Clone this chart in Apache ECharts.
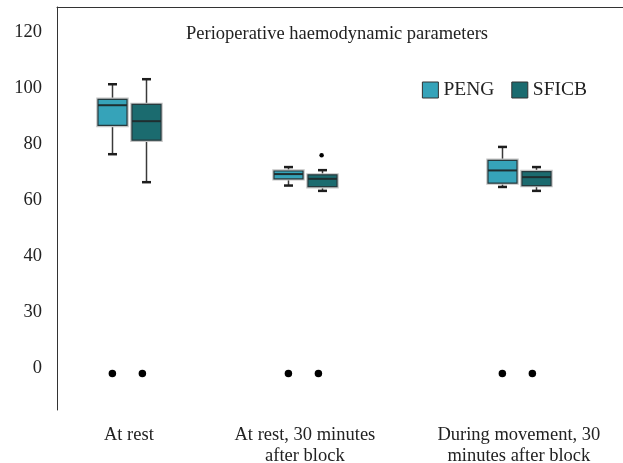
<!DOCTYPE html>
<html>
<head>
<meta charset="utf-8">
<script src="https://cdn.jsdelivr.net/npm/echarts@6/dist/echarts.min.js"></script>
<style>html,body{margin:0;padding:0;background:#fff}#c{width:623px;height:463px}</style>
</head>
<body>
<div id="c"></div>
<script>
// ---- data ----
const categories = ['At rest', 'At rest, 30 minutes\nafter block', 'During movement, 30\nminutes after block'];
const seriesNames = ['PENG', 'SFICB'];
// [min, Q1, median, Q3, max]
const pengBoxes = [
  [76.4, 86.7, 93.9, 96.0, 101.4],
  [65.2, 67.6, 69.3, 70.4, 71.8],
  [64.7, 66.1, 70.6, 74.2, 79.0]
];
const sficbBoxes = [
  [66.4, 81.4, 88.2, 94.2, 103.2],
  [63.3, 64.8, 67.6, 69.0, 70.7],
  [63.3, 65.2, 68.2, 70.2, 71.8]
];
const sficbOutliers = [[1, 76.0]];      // [category index, value]
const pengMarkers = [-2.0, -2.0, -2.0];  // dots near the bottom
const sficbMarkers = [-2.0, -2.0, -2.0];
const yTickValues = [0, 20, 40, 60, 80, 100, 120];
const yTickLabels = ['0', '30', '40', '60', '80', '100', '120'];
const categoryPos = [12.7, 43.8, 81.6]; // along x axis (0-100 scale)

// ---- chart ----
const chart = echarts.init(document.getElementById('c'));
const FONT = '"Liberation Serif", "Times New Roman", serif';
const colors = ['#36a3b9', '#1b6b6f'];
const boxOffsets = [-16.7, 16.7];

function boxRender(offset, color) {
  return function (params, api) {
    const x = api.value(0);
    const pMin = api.coord([x, api.value(1)]);
    const pQ1 = api.coord([x, api.value(2)]);
    const pMed = api.coord([x, api.value(3)]);
    const pQ3 = api.coord([x, api.value(4)]);
    const pMax = api.coord([x, api.value(5)]);
    const cx = Math.round(pMin[0] + offset) + 0.5;
    const hw = 14.5, cap = 4.5;
    const lineStyle = { stroke: '#3a3a3a', lineWidth: 1.5 };
    const capStyle = { stroke: '#1e1e1e', lineWidth: 2.5 };
    return {
      type: 'group',
      children: [
        { type: 'line', shape: { x1: cx, y1: pMax[1], x2: cx, y2: pQ3[1] }, style: lineStyle },
        { type: 'line', shape: { x1: cx, y1: pQ1[1], x2: cx, y2: pMin[1] }, style: lineStyle },
        { type: 'line', shape: { x1: cx - cap, y1: pMax[1], x2: cx + cap, y2: pMax[1] }, style: capStyle },
        { type: 'line', shape: { x1: cx - cap, y1: pMin[1], x2: cx + cap, y2: pMin[1] }, style: capStyle },
        { type: 'rect', shape: { x: cx - hw, y: pQ3[1], width: hw * 2, height: pQ1[1] - pQ3[1] },
          style: { fill: 'none', stroke: '#c4c4c4', lineWidth: 3.5 } },
        { type: 'rect', shape: { x: cx - hw, y: pQ3[1], width: hw * 2, height: pQ1[1] - pQ3[1] },
          style: { fill: color, stroke: '#263a3e', lineWidth: 1.2 } },
        { type: 'line', shape: { x1: cx - hw, y1: pMed[1], x2: cx + hw, y2: pMed[1] },
          style: { stroke: '#1f2e30', lineWidth: 2 } }
      ]
    };
  };
}

function toBoxData(boxes) {
  return boxes.map((b, i) => [categoryPos[i]].concat(b));
}

const option = {
  animation: false,
  backgroundColor: '#fff',
  title: {
    text: 'Perioperative haemodynamic parameters',
    left: 332, top: 20, textAlign: 'center',
    textStyle: { fontFamily: FONT, fontSize: 18.5, fontWeight: 'normal', color: '#222' }
  },
  legend: {
    data: seriesNames,
    right: 31, top: 75,
    itemWidth: 16, itemHeight: 16, itemGap: 17,
    icon: 'rect',
    itemStyle: { borderColor: '#333', borderWidth: 1 },
    textStyle: { fontFamily: FONT, fontSize: 19.5, color: '#222' }
  },
  grid: { left: 57, right: 0, top: 7, bottom: 53, containLabel: false, outerBoundsMode: 'none' },
  xAxis: [{
    type: 'value', min: 0, max: 100,
    axisLine: { show: false }, axisTick: { show: false }, splitLine: { show: false },
    axisLabel: {
      customValues: categoryPos,
      formatter: function (v) {
        const i = categoryPos.indexOf(v);
        return i >= 0 ? categories[i] : '';
      },
      margin: 15, fontFamily: FONT, fontSize: 18.5, lineHeight: 21, color: '#222'
    }
  }, {
    type: 'value', min: 0, max: 100, position: 'top',
    axisLine: { show: true, lineStyle: { color: '#333', width: 1 } },
    axisTick: { show: false }, axisLabel: { show: false }, splitLine: { show: false }
  }],
  yAxis: {
    type: 'value', min: -15, max: 129,
    axisLine: { show: true, lineStyle: { color: '#333', width: 1 } },
    axisTick: { show: false }, splitLine: { show: false },
    axisLabel: {
      customValues: yTickValues,
      formatter: function (v) {
        const i = yTickValues.indexOf(v);
        return i >= 0 ? yTickLabels[i] : '';
      },
      margin: 15, fontFamily: FONT, fontSize: 18.5, color: '#222'
    }
  },
  series: [
    {
      name: seriesNames[0], type: 'custom', renderItem: boxRender(boxOffsets[0], colors[0]),
      itemStyle: { color: colors[0] },
      encode: { x: 0, y: [1, 2, 3, 4, 5] },
      data: toBoxData(pengBoxes), z: 3
    },
    {
      name: seriesNames[1], type: 'custom', renderItem: boxRender(boxOffsets[1], colors[1]),
      itemStyle: { color: colors[1] },
      encode: { x: 0, y: [1, 2, 3, 4, 5] },
      data: toBoxData(sficbBoxes), z: 3
    },
    {
      name: 'SFICB outliers', type: 'scatter', symbolSize: 4.5,
      symbolOffset: [boxOffsets[1], 0],
      itemStyle: { color: '#000', opacity: 1 },
      data: sficbOutliers.map(o => [categoryPos[o[0]], o[1]]), z: 4
    },
    {
      name: 'PENG markers', type: 'scatter', symbolSize: 7.5,
      symbolOffset: [-16.5, 0],
      itemStyle: { color: '#000', opacity: 1 },
      data: pengMarkers.map((v, i) => [categoryPos[i], v])
    },
    {
      name: 'SFICB markers', type: 'scatter', symbolSize: 7.5,
      symbolOffset: [13.5, 0],
      itemStyle: { color: '#000', opacity: 1 },
      data: sficbMarkers.map((v, i) => [categoryPos[i], v])
    }
  ]
};
chart.setOption(option);
</script>
</body>
</html>
